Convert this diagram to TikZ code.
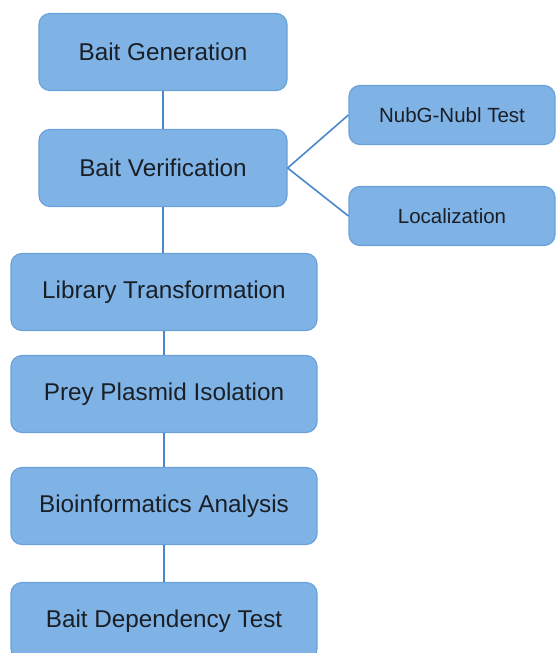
\documentclass[tikz,border=0pt]{standalone}
\usepackage{fontspec}
\setmainfont{Liberation Sans}
\definecolor{boxfill}{HTML}{7FB3E6}
\definecolor{boxdraw}{HTML}{6AA2DA}
\definecolor{linkc}{HTML}{4A88CC}
\definecolor{txt}{HTML}{1A1F26}
\begin{document}
\begin{tikzpicture}[x=1pt,y=-1pt,
  box/.style={draw=boxdraw,fill=boxfill,line width=1.2pt,rounded corners=11pt,
    inner sep=0pt,text=txt,font=\fontsize{24.3}{28}\selectfont},
  mainbox/.style={box,minimum width=306pt,minimum height=77pt},
  topbox/.style={box,minimum width=248pt,minimum height=77pt},
  sidebox/.style={box,minimum width=206pt,minimum height=59pt,font=\fontsize{20.5}{24}\selectfont},
  link/.style={draw=linkc,line width=1.6pt}]
\useasboundingbox (0,0) rectangle (556,653);
\clip (0,0) rectangle (556,653);
\fill[white] (0,0) rectangle (556,653);
\node[topbox] (gen) at (163,52) {Bait Generation};
\node[topbox] (ver) at (163,168) {Bait Verification};
\node[sidebox] (nub) at (452,115) {NubG-Nubl Test};
\node[sidebox] (loc) at (452,216) {Localization};
\node[mainbox] (lib) at (164,292) {Library Transformation};
\node[mainbox] (prey) at (164,394) {Prey Plasmid Isolation};
\node[mainbox] (bio) at (164,506) {Bioinformatics Analysis};
\node[mainbox] (dep) at (164,621) {Bait Dependency Test};
\draw[link] (gen.south) -- (ver.north);
\draw[link] (ver.south) -- (ver.south |- lib.north);
\draw[link] (prey.north) -- (lib.south);
\draw[link] (bio.north) -- (prey.south);
\draw[link] (dep.north) -- (bio.south);
\draw[link] (ver.east) -- (nub.west);
\draw[link] (ver.east) -- (loc.west);
\end{tikzpicture}
\end{document}
